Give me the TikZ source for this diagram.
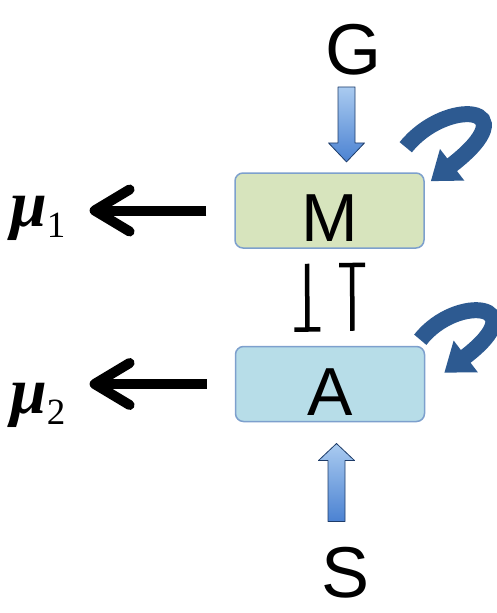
\documentclass[tikz,border=0pt]{standalone}
\usepackage{fontspec}
\newfontfamily\helv{Liberation Sans}
\newfontfamily\timesf{Liberation Serif}
\usepackage{tikz}
\usetikzlibrary{calc, arrows.meta}

\definecolor{mfill}{RGB}{215,228,189}
\definecolor{afill}{RGB}{183,221,232}
\definecolor{boxline}{RGB}{125,160,205}
\definecolor{loopblue}{RGB}{45,90,145}
\definecolor{arrowtop}{RGB}{170,203,240}
\definecolor{arrowbot}{RGB}{75,130,210}
\definecolor{arrowline}{RGB}{30,60,105}

\newcommand{\musub}[1]{{\bfseries\itshape μ}\raisebox{-11pt}{\fontsize{37}{37}\selectfont #1}}

\begin{document}
\begin{tikzpicture}[x=1pt,y=-1pt,
  box/.style={draw=boxline,line width=1.5pt,rounded corners=8pt,minimum width=189pt,minimum height=75pt,
    text height=62pt,text depth=0pt,inner sep=0pt,font=\helv\fontsize{68}{68}\selectfont},
  letter/.style={inner sep=0pt,font=\helv\fontsize{72}{72}\selectfont},
  mulabel/.style={inner sep=0pt,font=\timesf\fontsize{66}{66}\selectfont},
  fatarrow/.style={top color=arrowtop,bottom color=arrowbot,draw=arrowline,line width=0.8pt,line join=round},
  selfloop/.style={draw=loopblue,line width=16pt,-{Triangle[length=27pt,width=38pt]}},
  inhib/.style={line width=4.5pt,-{Bar[width=26pt]},shorten <=15pt,shorten >=14pt},
  outarrow/.style={line width=10pt,-{Straight Barb[length=35pt,width=42pt,round]},shorten <=28pt,shorten >=24pt}]
\useasboundingbox (0,0) rectangle (496,613);

% boxes
\node[box,fill=mfill] (M) at (329.5,210.5) {M};
\node[box,fill=afill] (A) at (330,384) {A};

% inputs
\node[letter,anchor=base] (G) at (353,74) {G};
\node[letter,anchor=base] (S) at (346,597) {S};

% rates
\node[mulabel,anchor=base west] (mu1) at (10,226) {\musub{1}};
\node[mulabel,anchor=base west] (mu2) at (10,413) {\musub{2}};

% input arrows
\shadedraw[fatarrow] ($(G.south)+(-15,12)$) -- ++(17,0) -- ++(0,56) -- ++(9.5,0) -- ++(-18,19) -- ++(-18,-19) -- ++(9.5,0) -- cycle;
\shadedraw[fatarrow] ($(S.north)+(-18,-25)$) -- ++(17,0) -- ++(0,-61) -- ++(9.5,0) -- ++(-18,-17) -- ++(-18,17) -- ++(9.5,0) -- cycle;

% self loops
\draw[selfloop] ($(M.north east)+(-19,-25)$) .. controls +(40,-50) and +(100,-77) .. ($(M.north east)+(6,9)$);
\draw[selfloop] ($(A.north east)+(-5,-6)$) .. controls +(36,-46) and +(92,-70) .. ($(A.north east)+(19,27)$);

% mutual inhibition
\draw[inhib] ([xshift=-22.5pt]M.south) -- ([xshift=-22.5pt]A.north);
\draw[inhib] ([xshift=22.5pt]A.north) -- ([xshift=22.5pt]M.south);

% outputs
\draw[outarrow] (M.west) -- (M.west -| mu1.east);
\draw[outarrow] (A.west) -- (A.west -| mu2.east);
\end{tikzpicture}
\end{document}
